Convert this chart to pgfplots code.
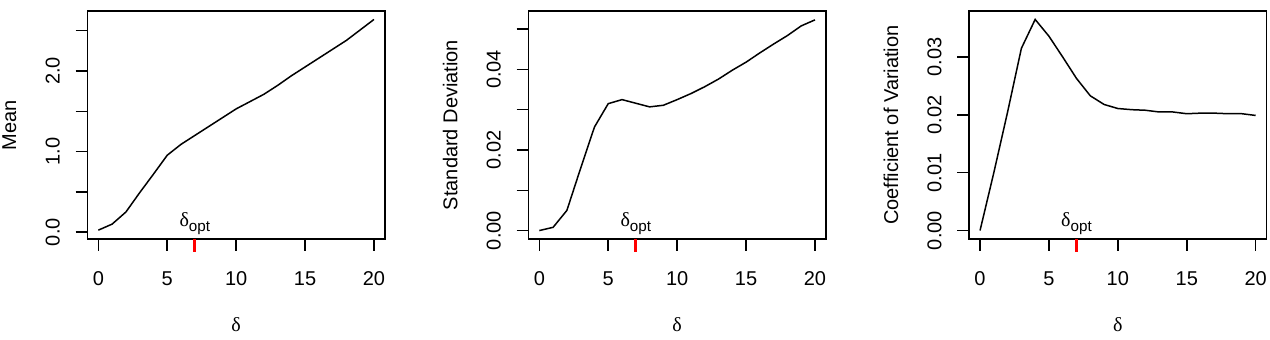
\documentclass[border=0pt]{standalone}
\usepackage{fontspec}
\setmainfont{Liberation Sans}
\newfontfamily\grk{Liberation Serif}
\usepackage{pgfplots}
\pgfplotsset{compat=1.18}

\pgfplotstableread{
x mean sd cv
0 0.025 0.0000 0.0000
1 0.100 0.0008 0.0100
2 0.250 0.0050 0.0205
3 0.490 0.0155 0.0315
4 0.720 0.0257 0.0365
5 0.955 0.0315 0.0336
6 1.090 0.0325 0.0300
7 1.200 0.0316 0.0263
8 1.310 0.0307 0.0233
9 1.420 0.0311 0.0218
10 1.530 0.0325 0.0211
11 1.620 0.0340 0.0209
12 1.710 0.0357 0.0208
13 1.820 0.0376 0.0205
14 1.940 0.0398 0.0205
15 2.050 0.0418 0.0202
16 2.160 0.0441 0.0203
17 2.270 0.0463 0.0203
18 2.380 0.0484 0.0202
19 2.510 0.0508 0.0202
20 2.640 0.0523 0.0199
}\datatable

\pgfplotsset{rstyle/.style={
  scale only axis, width=148.85pt, height=114pt, anchor=south west,
  xmin=-0.8, xmax=20.8, clip=false,
  scaled y ticks=false, scaled x ticks=false,
  axis line style={line width=0.75pt, black},
  every tick/.style={line width=0.75pt, black},
  tick align=outside, major tick length=5.8pt,
  xtick pos=bottom, ytick pos=left,
  xtick={0,5,10,15,20}, xticklabels={0,5,10,15,20},
  xticklabel style={anchor=center, yshift=-14pt, inner sep=0pt},
  yticklabel style={xshift=-11.5pt, rotate=90, anchor=center, inner sep=0pt},
  font=\fontsize{10}{12}\selectfont,
  xlabel={\grk δ},
  xlabel style={at={(axis description cs:0.5,-0.377)}, anchor=center, inner sep=0pt},
  ylabel style={at={(axis description cs:-0.262,0.5)}, anchor=center, inner sep=0pt},
}}
\newcommand{\dopt}{{\grk δ}\raisebox{-2.2pt}{\fontsize{7.6}{8}\selectfont opt}}

\begin{document}
\begin{tikzpicture}
\useasboundingbox (0,0) rectangle (635pt,169.5pt);

\begin{axis}[rstyle, at={(43.65pt,50pt)},
  ymin=-0.0848, ymax=2.7448,
  ytick={0,0.5,1,1.5,2,2.5}, yticklabels={0.0,,1.0,,2.0,},
  ylabel={Mean}]
\addplot[black, line width=0.75pt] table[x=x, y=mean] {\datatable};
\addplot[red, line width=1.5pt] coordinates {(7,-0.0848) (7,-0.2461)};
\node[anchor=base, inner sep=0pt] at (axis cs:7,0.0678) {\dopt};
\end{axis}

\begin{axis}[rstyle, at={(264.15pt,50pt)},
  ymin=-0.0021, ymax=0.0545,
  ytick={0,0.01,0.02,0.03,0.04,0.05}, yticklabels={0.00,,0.02,,0.04,},
  ylabel={Standard Deviation}]
\addplot[black, line width=0.75pt] table[x=x, y=sd] {\datatable};
\addplot[red, line width=1.5pt] coordinates {(7,-0.0021) (7,-0.00533)};
\node[anchor=base, inner sep=0pt] at (axis cs:7,0.00095) {\dopt};
\end{axis}

\begin{axis}[rstyle, at={(484.5pt,50pt)},
  ymin=-0.00146, ymax=0.03796,
  ytick={0,0.01,0.02,0.03}, yticklabels={0.00,0.01,0.02,0.03},
  ylabel={Coefficient of Variation}]
\addplot[black, line width=0.75pt] table[x=x, y=cv] {\datatable};
\addplot[red, line width=1.5pt] coordinates {(7,-0.00146) (7,-0.00371)};
\node[anchor=base, inner sep=0pt] at (axis cs:7,0.000667) {\dopt};
\end{axis}
\end{tikzpicture}
\end{document}
